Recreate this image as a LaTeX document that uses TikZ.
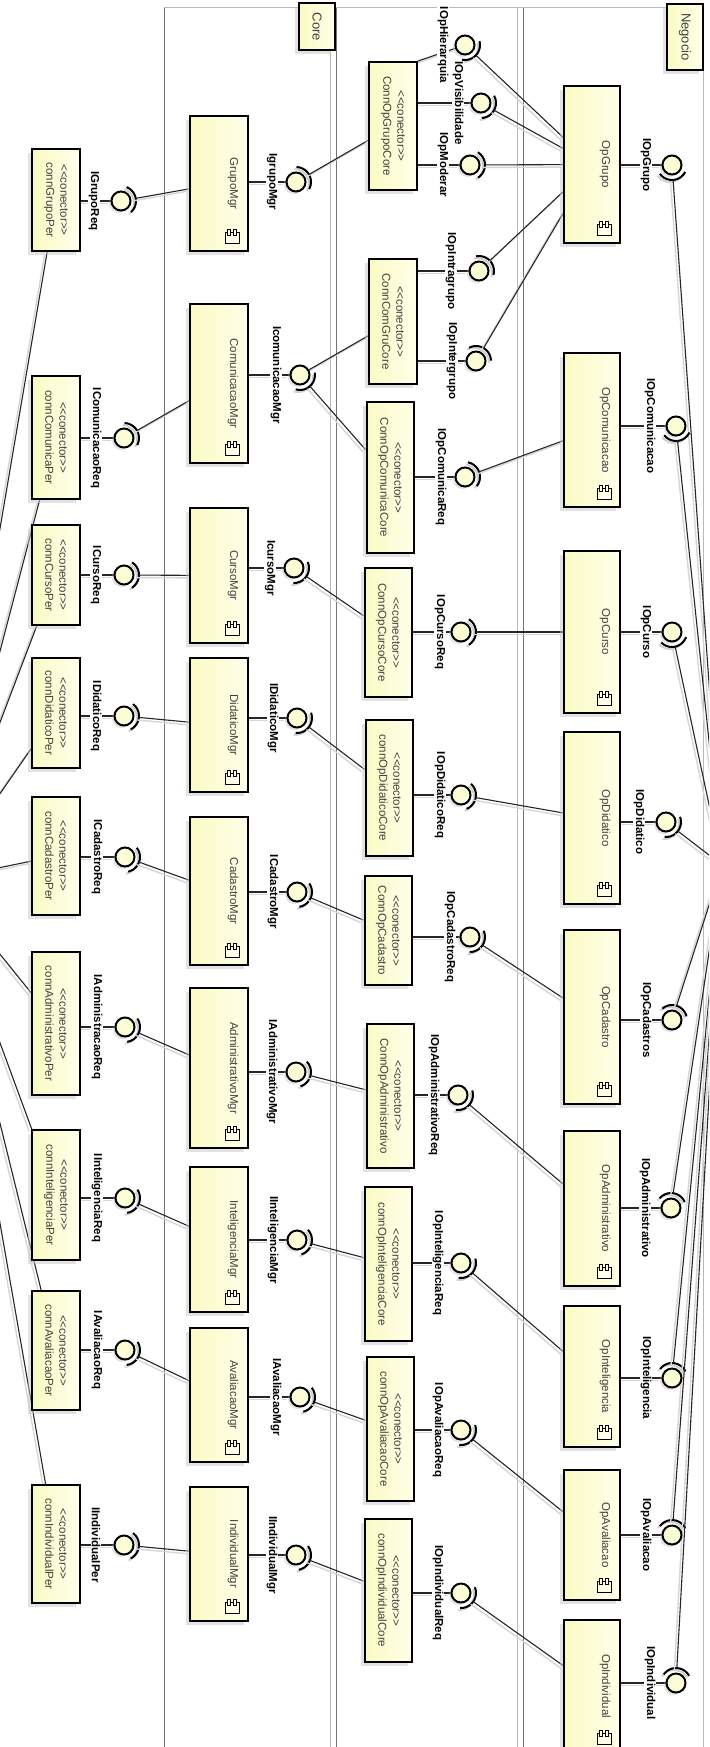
\documentclass[tikz,border=0pt]{standalone}
\usepackage{fontspec}
\setmainfont{Liberation Sans}
\usetikzlibrary{calc,shadows}
\definecolor{cfillA}{RGB}{250,250,196}
\definecolor{cfillB}{RGB}{255,255,234}
\definecolor{bfill}{RGB}{252,252,214}
\pgfdeclarelayer{bg}
\pgfsetlayers{bg,main}
\tikzset{
  cbox/.style={draw=black, line width=2pt, left color=cfillA, right color=cfillB, inner sep=0pt,
    drop shadow={shadow xshift=-4pt, shadow yshift=-4pt, fill=black!22}},
  lbl/.style={rotate=-90, font=\bfseries\fontsize{11.5}{13}\selectfont, fill=white, inner sep=1pt},
  btext/.style={rotate=-90, font=\fontsize{11.5}{14}\selectfont, text=black!75, inner sep=0pt},
  ktext/.style={btext, align=center},
  ttext/.style={rotate=-90, font=\fontsize{13}{15}\selectfont, text=black!75, inner sep=0pt},
  ifball/.style={circle, draw=black, line width=2pt, fill=bfill, minimum size=19pt, inner sep=0pt,
    drop shadow={shadow xshift=-2.5pt, shadow yshift=-2.5pt, fill=black!22}},
  conn/.style={draw=black!85, line width=1.1pt,
    preaction={draw=black!16, line width=1.4pt, transform canvas={shift={(-2.5pt,-2.5pt)}}}},
  sarc/.style={draw=black, line width=2pt,
    preaction={draw=black!18, line width=2pt, transform canvas={shift={(-2pt,-2pt)}}}},
  lane/.style={draw=black!55, line width=0.8pt},
  lanel/.style={draw=black!28, line width=0.8pt},
  cicon/.pic={
    \draw[line width=0.7pt, fill=cfillB] (-7,-4) rectangle (7,7);
    \draw[line width=0.7pt, fill=cfillB] (-4.5,-7) rectangle (-1.5,-1);
    \draw[line width=0.7pt, fill=cfillB] (1.5,-7) rectangle (4.5,-1);
  }
}
\newcommand\stereo{\textless\kern0pt\textless\kern0pt conector\kern0pt\textgreater\kern0pt\textgreater}
% name, cx, cy, w, h, text
\newcommand\compbox[6]{%
  \node[cbox, minimum width=#4pt, minimum height=#5pt] (#1) at (#2,#3) {};
  \node[btext] (#1-t) at ([xshift=-16pt]#1.east) {#6};
  \pic at ([xshift=-17pt,yshift=16pt]#1.south east) {cicon};
}
\newcommand\connbox[6]{%
  \node[cbox, minimum width=#4pt, minimum height=#5pt] (#1) at (#2,#3) {};
  \node[ktext] (#1-t) at (#1.center) {\stereo\\#6};
}
% name, x, y, label, label shift
\newcommand\iball[5]{%
  \node[ifball] (#1) at (#2,#3) {};
  \node[lbl] (#1-l) at ([xshift=#5pt]#1.center) {#4};
}
\newcommand\provl[2]{\draw[conn] (#1) -- (#1 -| #2.east);}
\newcommand\sockto[2]{%
  \draw[sarc] let \p1=(#1.center), \p2=(#2), \n1={atan2(\y2-\y1,\x2-\x1)}, \n2={\n1-58}, \n3={\n1+58} in
    ($(\p1)+(\n2:15pt)$) arc[start angle=\n2, end angle=\n3, radius=15pt];
  \draw[conn] let \p1=(#1.center), \p2=(#2), \n1={atan2(\y2-\y1,\x2-\x1)} in
    ($(\p1)+(\n1:15pt)$) -- (#2);
}
\begin{document}
\begin{tikzpicture}[x=1pt, y=-1pt]
\useasboundingbox (0,0) rectangle (709,1747);
\clip (0,0) rectangle (709,1747);
\coordinate (PL) at (-60,880);
\coordinate (PR) at (722,865);

% tags
\node[cbox, minimum width=36pt, minimum height=47pt] (CoreTag) at (317,27) {};
\node[ttext] (CoreTag-t) at (CoreTag) {Core};
\node[cbox, minimum width=36pt, minimum height=66pt] (NegTag) at (685,37) {};
\node[ttext] (NegTag-t) at (NegTag) {Negocio};

% column A: Per connectors
\connbox{connGrupoPer}{56}{200}{48}{102}{connGrupoPer}
\connbox{connComunicaPer}{56}{437.5}{48}{123}{connComunicaPer}
\connbox{connCursoPer}{56}{575}{48}{100}{connCursoPer}
\connbox{connDidaticoPer}{56}{713}{48}{110}{connDidaticoPer}
\connbox{connCadastroPer}{56}{856}{48}{118}{connCadastroPer}
\connbox{connAdministrativoPer}{56}{1023.5}{48}{143}{connAdministrativoPer}
\connbox{connInteligenciaPer}{56}{1195}{48}{130}{connInteligenciaPer}
\connbox{connAvaliacaoPer}{56}{1350.5}{48}{119}{connAvaliacaoPer}
\connbox{connIndividualPer}{56}{1544}{48}{118}{connIndividualPer}

% column B: Mgr components
\compbox{GrupoMgr}{219}{183.5}{58}{135}{GrupoMgr}
\compbox{ComunicacaoMgr}{219}{383.5}{58}{159}{ComunicacaoMgr}
\compbox{CursoMgr}{219}{575.5}{58}{135}{CursoMgr}
\compbox{DidaticoMgr}{219}{725}{58}{134}{DidaticoMgr}
\compbox{CadastroMgr}{219}{891}{58}{148}{CadastroMgr}
\compbox{AdministrativoMgr}{219}{1068}{58}{160}{AdministrativoMgr}
\compbox{InteligenciaMgr}{219}{1239.5}{58}{145}{InteligenciaMgr}
\compbox{AvaliacaoMgr}{219}{1395}{58}{134}{AvaliacaoMgr}
\compbox{IndividualMgr}{219}{1554}{58}{134}{IndividualMgr}

% column C: Core connectors
\connbox{ConnOpGrupoCore}{393}{126}{48}{128}{ConnOpGrupoCore}
\connbox{ConnComGruCore}{393}{321.5}{48}{125}{ConnComGruCore}
\connbox{ConnOpComunicaCore}{390}{477.5}{47}{151}{ConnOpComunicaCore}
\connbox{ConnOpCursoCore}{388}{632.5}{47}{129}{ConnOpCursoCore}
\connbox{connOpDidaticoCore}{389}{788}{47}{136}{connOpDidaticoCore}
\connbox{ConnOpCadastro}{388}{930.5}{47}{109}{ConnOpCadastro}
\connbox{ConnOpAdministrativo}{390}{1096}{47}{144}{ConnOpAdministrativo}
\connbox{connOpInteligenciaCore}{388}{1264}{47}{154}{connOpInteligenciaCore}
\connbox{connOpAvaliacaoCore}{390}{1429}{47}{144}{connOpAvaliacaoCore}
\connbox{connOpIndividualCore}{388}{1590.5}{47}{143}{connOpIndividualCore}

% column E: Op components
\compbox{OpGrupo}{592}{164.5}{56}{157}{OpGrupo}
\compbox{OpComunicacao}{592}{430}{56}{154}{OpComunicacao}
\compbox{OpCurso}{592}{632}{56}{162}{OpCurso}
\compbox{OpDidatico}{592}{818}{56}{172}{OpDidatico}
\compbox{OpCadastro}{592}{1017}{56}{174}{OpCadastro}
\compbox{OpAdministrativo}{592}{1208.5}{56}{155}{OpAdministrativo}
\compbox{OpInteligencia}{592}{1376.5}{56}{141}{OpInteligencia}
\compbox{OpAvaliacao}{592}{1535}{56}{130}{OpAvaliacao}
\compbox{OpIndividual}{592}{1686}{56}{132}{OpIndividual}

% interfaces column A
\iball{IGrupoReq}{121}{201}{IGrupoReq}{-27}
\iball{IComunicacaoReq}{124}{438}{IComunicacaoReq}{-28}
\iball{ICursoReq}{124}{575}{ICursoReq}{-28}
\iball{IDidaticoReq}{124}{716}{IDidaticoReq}{-28}
\iball{ICadastroReq}{125}{857}{ICadastroReq}{-28}
\iball{IAdministracaoReq}{125}{1027}{IAdministracaoReq}{-28}
\iball{IInteligenciaReq}{125}{1198}{IInteligenciaReq}{-28}
\iball{IAvaliacaoReq}{125}{1350}{IAvaliacaoReq}{-28}
\iball{IIndividualPer}{124}{1545}{IIndividualPer}{-28}

% interfaces column B
\iball{IgrupoMgr}{296}{182}{IgrupoMgr}{-24}
\iball{IcomunicacaoMgr}{300}{375}{IcomunicacaoMgr}{-24}
\iball{IcursoMgr}{294}{568}{IcursoMgr}{-24}
\iball{IDidaticoMgr}{297}{718}{IDidaticoMgr}{-24}
\iball{ICadastroMgr}{297}{892}{ICadastroMgr}{-24}
\iball{IAdministrativoMgr}{296}{1072}{IAdministrativoMgr}{-24}
\iball{IInteligenciaMgr}{297}{1240}{IInteligenciaMgr}{-24}
\iball{IAvaliacaoMgr}{300}{1397}{IAvaliacaoMgr}{-24}
\iball{IIndividualMgr}{296}{1555}{IIndividualMgr}{-24}

% interfaces column D
\iball{IOpHierarquia}{465}{45}{IOpHierarquia}{-22}
\iball{IOpVisibilidade}{481}{103}{IOpVisibilidade}{-23}
\iball{IOpModerar}{470}{165}{IOpModerar}{-27}
\iball{IOpIntragrupo}{479}{271}{IOpIntragrupo}{-28}
\iball{IOpIntergrupo}{476}{361}{IOpIntergrupo}{-24}
\iball{IOpComunicaReq}{465}{477}{IOpComunicaReq}{-24}
\iball{IOpCursoReq}{461}{632}{IOpCursoReq}{-21}
\iball{IOpDidaticoReq}{461}{795}{IOpDidaticoReq}{-21}
\iball{IOpCadastroReq}{470}{937}{IOpCadastroReq}{-20}
\iball{IOpAdministrativoReq}{458}{1095}{IOpAdministrativoReq}{-24}
\iball{IOpInteligenciaReq}{461}{1263}{IOpInteligenciaReq}{-23}
\iball{IOpAvaliacaoReq}{461}{1430}{IOpAvaliacaoReq}{-23}
\iball{IOpIndividualReq}{461}{1593}{IOpIndividualReq}{-23}

% interfaces column F
\iball{IOpGrupo}{672}{165}{IOpGrupo}{-26}
\iball{IOpComunicacao}{676}{426}{IOpComunicacao}{-26}
\iball{IOpCurso}{672}{632}{IOpCurso}{-26}
\iball{IOpDidatico}{666}{822}{IOpDidatico}{-27}
\iball{IOpCadastros}{672}{1020}{IOpCadastros}{-26}
\iball{IOpAdministrativo}{671}{1208}{IOpAdministrativo}{-26}
\iball{IOpInteligencia}{672}{1378}{IOpInteligencia}{-26}
\iball{IOpAvaliacao}{672}{1535}{IOpAvaliacao}{-26}
\iball{IOpIndividual}{676}{1683}{IOpIndividual}{-26}

\begin{pgfonlayer}{bg}
\fill[white] (0,0) rectangle (709,1747);
\clip (0,0) rectangle (709,1747);
% lanes
\draw[lane] (164,7) -- (164,1747);
\draw[lanel] (330,7) -- (330,1747);
\draw[lane] (336,7) -- (336,1747);
\draw[lanel] (517,7) -- (517,1747);
\draw[lane] (523,7) -- (523,1747);
\draw[lanel] (703,7) -- (703,1747);
\draw[lanel] (164,7) -- (703,7);

% left long lines
\foreach \n in {connGrupoPer,connComunicaPer,connCursoPer,connDidaticoPer,connCadastroPer,
  connAdministrativoPer,connInteligenciaPer,connAvaliacaoPer,connIndividualPer}
  {\draw[conn] (\n) -- (PL);}

% column A
\provl{IGrupoReq}{connGrupoPer}        \sockto{IGrupoReq}{GrupoMgr}
\provl{IComunicacaoReq}{connComunicaPer} \sockto{IComunicacaoReq}{ComunicacaoMgr}
\provl{ICursoReq}{connCursoPer}        \sockto{ICursoReq}{CursoMgr}
\provl{IDidaticoReq}{connDidaticoPer}  \sockto{IDidaticoReq}{DidaticoMgr}
\provl{ICadastroReq}{connCadastroPer}  \sockto{ICadastroReq}{CadastroMgr}
\provl{IAdministracaoReq}{connAdministrativoPer} \sockto{IAdministracaoReq}{AdministrativoMgr}
\provl{IInteligenciaReq}{connInteligenciaPer} \sockto{IInteligenciaReq}{InteligenciaMgr}
\provl{IAvaliacaoReq}{connAvaliacaoPer} \sockto{IAvaliacaoReq}{AvaliacaoMgr}
\provl{IIndividualPer}{connIndividualPer} \sockto{IIndividualPer}{IndividualMgr}

% column B
\provl{IgrupoMgr}{GrupoMgr}            \sockto{IgrupoMgr}{ConnOpGrupoCore}
\provl{IcomunicacaoMgr}{ComunicacaoMgr} \sockto{IcomunicacaoMgr}{ConnOpComunicaCore}
\draw[conn] (IcomunicacaoMgr) -- (ConnComGruCore);
\provl{IcursoMgr}{CursoMgr}            \sockto{IcursoMgr}{ConnOpCursoCore}
\provl{IDidaticoMgr}{DidaticoMgr}      \sockto{IDidaticoMgr}{connOpDidaticoCore}
\provl{ICadastroMgr}{CadastroMgr}      \sockto{ICadastroMgr}{ConnOpCadastro}
\provl{IAdministrativoMgr}{AdministrativoMgr} \sockto{IAdministrativoMgr}{ConnOpAdministrativo}
\provl{IInteligenciaMgr}{InteligenciaMgr} \sockto{IInteligenciaMgr}{connOpInteligenciaCore}
\provl{IAvaliacaoMgr}{AvaliacaoMgr}    \sockto{IAvaliacaoMgr}{connOpAvaliacaoCore}
\provl{IIndividualMgr}{IndividualMgr}  \sockto{IIndividualMgr}{connOpIndividualCore}

% column D
\draw[conn] (ConnOpGrupoCore.north east) -- (IOpHierarquia); \sockto{IOpHierarquia}{OpGrupo}
\provl{IOpVisibilidade}{ConnOpGrupoCore} \sockto{IOpVisibilidade}{OpGrupo}
\provl{IOpModerar}{ConnOpGrupoCore}    \sockto{IOpModerar}{OpGrupo}
\provl{IOpIntragrupo}{ConnComGruCore}  \sockto{IOpIntragrupo}{OpGrupo}
\provl{IOpIntergrupo}{ConnComGruCore}  \sockto{IOpIntergrupo}{OpGrupo}
\provl{IOpComunicaReq}{ConnOpComunicaCore} \sockto{IOpComunicaReq}{OpComunicacao}
\provl{IOpCursoReq}{ConnOpCursoCore}   \sockto{IOpCursoReq}{OpCurso}
\provl{IOpDidaticoReq}{connOpDidaticoCore} \sockto{IOpDidaticoReq}{OpDidatico}
\provl{IOpCadastroReq}{ConnOpCadastro} \sockto{IOpCadastroReq}{OpCadastro}
\provl{IOpAdministrativoReq}{ConnOpAdministrativo} \sockto{IOpAdministrativoReq}{OpAdministrativo}
\provl{IOpInteligenciaReq}{connOpInteligenciaCore} \sockto{IOpInteligenciaReq}{OpInteligencia}
\provl{IOpAvaliacaoReq}{connOpAvaliacaoCore} \sockto{IOpAvaliacaoReq}{OpAvaliacao}
\provl{IOpIndividualReq}{connOpIndividualCore} \sockto{IOpIndividualReq}{OpIndividual}

% column F
\provl{IOpGrupo}{OpGrupo}              \sockto{IOpGrupo}{PR}
\provl{IOpComunicacao}{OpComunicacao}  \sockto{IOpComunicacao}{PR}
\provl{IOpCurso}{OpCurso}              \sockto{IOpCurso}{PR}
\provl{IOpDidatico}{OpDidatico}        \sockto{IOpDidatico}{PR}
\provl{IOpCadastros}{OpCadastro}       \sockto{IOpCadastros}{PR}
\provl{IOpAdministrativo}{OpAdministrativo} \sockto{IOpAdministrativo}{PR}
\provl{IOpInteligencia}{OpInteligencia} \sockto{IOpInteligencia}{PR}
\provl{IOpAvaliacao}{OpAvaliacao}      \sockto{IOpAvaliacao}{PR}
\provl{IOpIndividual}{OpIndividual}    \sockto{IOpIndividual}{PR}
\end{pgfonlayer}
\end{tikzpicture}
\end{document}
